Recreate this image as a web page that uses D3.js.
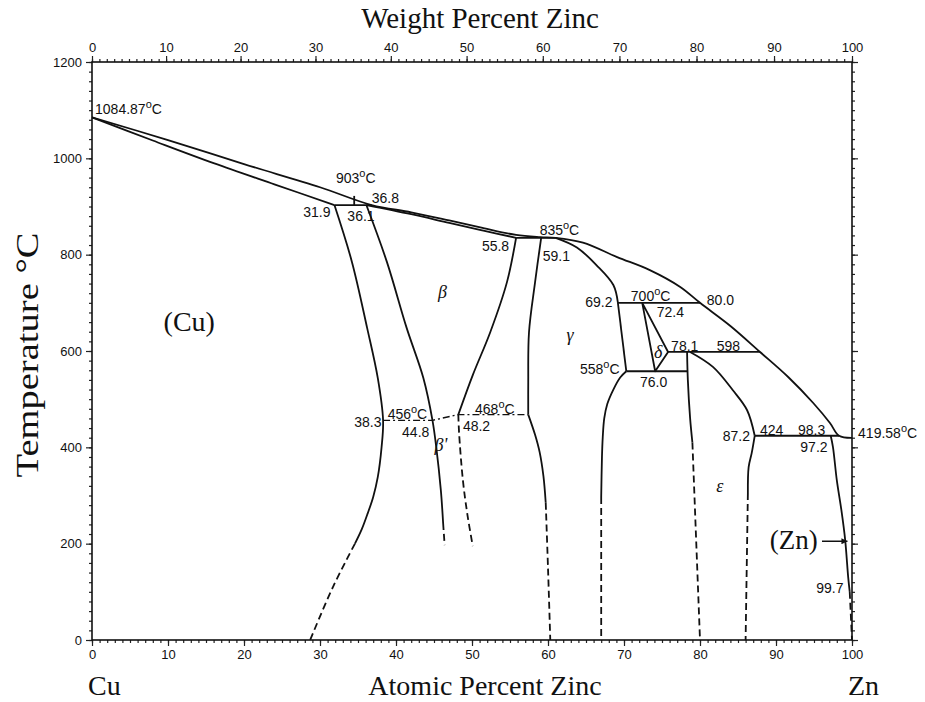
<!DOCTYPE html>
<html>
<head>
<meta charset="utf-8">
<script src="https://cdn.jsdelivr.net/npm/d3@7"></script>
<style>
body { margin: 0; background: #fff; }
text { fill: #111; }
</style>
</head>
<body>
<div id="chart"></div>
<script>
// phase boundaries, [atomic % Zn, temperature C]
var liquidus = [[0,1084.87],[10,1038],[20,988],[30,940],[36.8,903],[42,888],[47,871],[51.5,855],[55.8,841],[59,836.5],[61,835],[64.6,825],[69.1,795],[73.4,768],[77.4,733],[80,700],[84,652],[87.9,598],[91.6,546],[94.9,492],[97.1,450.5],[98.3,424],[100,419.58]];
var alphaSolidus = [[0,1084.87],[8,1037],[16,990],[24,946],[31.9,903]];
var betaSolidus = [[36.1,903],[42,884],[47,866],[51.5,850],[55.8,835]];
var gammaSolidus = [[61,835],[63.8,815],[66.4,778],[68.6,737],[69.2,700]];

var alphaSolvus = [[31.9,903],[34.2,785],[36.2,648],[37.6,544],[38.3,456],[38.1,400],[37.6,338],[37.0,297],[36.3,264],[35.5,230],[34.6,200]];
var alphaSolvusLow = [[34.6,200],[31.7,110],[28.7,0]];
var betaLeft = [[36.1,903],[38.8,785],[41.4,648],[43.6,544],[44.8,456],[45.3,400],[45.9,311],[46.2,243]];
var betaLeftLow = [[46.2,243],[46.4,197]];
var betaRight = [[55.8,835],[54.6,743],[52.4,639],[50.1,550],[48.2,468]];
var betaRightLow = [[48.2,468],[48.3,430],[48.8,332],[49.4,260],[50.1,195]];
var gammaLeft = [[59.1,835],[58.3,743],[57.5,639],[57.4,535],[57.4,468]];
var gammaLeftMid = [[57.4,468],[58.3,426],[58.9,390],[59.4,340],[59.7,285]];
var gammaLeftLow = [[59.7,285],[60.0,150],[60.3,0]];
var gammaRightTop = [[69.2,700],[70.3,558]];
var gammaRight = [[70.3,558],[69.5,545],[68.6,520],[67.8,490],[67.4,460],[67.2,420],[67.1,380],[67.0,297]];
var gammaRightLow = [[67.0,297],[67.0,0]];
var deltaField = [[72.4,700],[75.8,598],[74.1,558],[72.4,700]];
var epsLeft = [[78.3,598],[78.4,540],[78.7,460],[79.0,410]];
var epsLeftLow = [[79.0,410],[80.0,0]];
var epsRightTop = [[78.7,598],[81.7,567],[84.3,519],[86.2,477],[87.2,424]];
var epsRight = [[87.2,424],[86.8,388],[86.4,359],[86.3,305]];
var epsRightLow = [[86.3,305],[86.0,0]];
var znSolvus = [[97.2,424],[97.5,400],[98.0,332],[98.6,270],[99.1,208],[99.5,130],[99.7,100]];
var znSolvusLow = [[99.7,100],[100,0]];

// invariant lines
var tie903 = [[31.9,903],[36.8,903]];
var tie835 = [[55.8,835],[61,835]];
var tie700 = [[69.2,700],[80,700]];
var tie598 = [[75.8,598],[87.9,598]];
var tie558 = [[70.3,558],[78.4,558]];
var tie424 = [[87.2,424],[98.3,424]];
var mark903 = [[34.5,903],[34.5,922]];
var ordering = [[38.3,456],[44.8,456],[48.2,468],[57.4,468]];

// labels: text, atomic %, temperature
var numLabels = [
  ["1084.87°C",0.4,1092],["903°C",32.1,949],["36.8",36.8,907],["31.9",27.8,878],["36.1",33.6,870],
  ["55.8",51.3,808],["835°C",58.9,840],["59.1",59.3,787],["69.2",64.9,691],["700°C",70.9,704],
  ["80.0",80.9,696],["72.4",74.3,671],["78.1",76.2,600],["598",82.2,600],["558°C",64.2,552],
  ["76.0",72.1,525],["38.3",34.5,442],["456°C",38.9,459],["44.8",40.8,421],["468°C",50.4,469],
  ["48.2",48.8,434],["87.2",83.0,413],["424",87.9,426],["98.3",92.9,426],["97.2",93.2,390],
  ["419.58°C",100.8,419],["99.7",95.3,98]
];
var phaseLabels = [["β",46.1,710],["γ",62.9,621],["δ",74.5,586],["β'",45.9,393],["ε",82.6,307]];

var atTicks = d3.range(0, 101, 10);
var atMinor = d3.range(0, 101, 1);
var wtTicks = d3.range(0, 101, 10);
var wtMinor = d3.range(0, 101, 1);
var tempTicks = d3.range(0, 1201, 200);
var tempMinor = d3.range(0, 1201, 20);

var width = 925, height = 702;
var x = d3.scaleLinear().domain([0, 100]).range([92, 852]);
var y = d3.scaleLinear().domain([0, 1200]).range([640, 62]);

// weight % -> atomic % (Cu 63.546, Zn 65.38)
function wtToAt(w) {
  var a = w / 65.38, b = (100 - w) / 63.546;
  return (a + b) === 0 ? 0 : a / (a + b) * 100;
}
var xw = d3.scaleLinear().domain(wtMinor).range(wtMinor.map(function(w) { return x(wtToAt(w)); }));

var svg = d3.select("#chart").append("svg")
  .attr("width", width)
  .attr("height", height);

var tickFont = "Liberation Sans, Arial, sans-serif";

function drawAxis(axisFn, scale, major, minor, tf, labels) {
  var g = svg.append("g").attr("transform", tf);
  g.call(axisFn(scale).tickValues(minor).tickSize(3).tickSizeOuter(0).tickFormat(""));
  var m = svg.append("g").attr("transform", tf);
  m.call(axisFn(scale).tickValues(major).tickSize(6).tickSizeOuter(0).tickPadding(4)
    .tickFormat(labels ? d3.format("d") : ""));
  [g, m].forEach(function(s) {
    s.select(".domain").remove();
    s.selectAll("line").attr("stroke", "#222").attr("stroke-width", 1.2);
    s.selectAll("text").style("font-family", tickFont).style("font-size", "13px").attr("fill", "#111");
  });
}

drawAxis(d3.axisBottom, x, atTicks, atMinor, "translate(0,640)", true);
drawAxis(d3.axisTop, xw, wtTicks, wtMinor, "translate(0,62)", true);
drawAxis(d3.axisLeft, y, tempTicks, tempMinor, "translate(92,0)", true);
drawAxis(d3.axisRight, y, tempTicks, tempMinor, "translate(852,0)", false);

svg.append("rect")
  .attr("x", x(0)).attr("y", y(1200))
  .attr("width", x(100) - x(0)).attr("height", y(0) - y(1200))
  .attr("fill", "none").attr("stroke", "#111").attr("stroke-width", 1.6);

var smooth = d3.line().x(function(d) { return x(d[0]); }).y(function(d) { return y(d[1]); })
  .curve(d3.curveCatmullRom.alpha(0.5));
var straight = d3.line().x(function(d) { return x(d[0]); }).y(function(d) { return y(d[1]); });

var plot = svg.append("g").attr("fill", "none").attr("stroke", "#111").attr("stroke-width", 1.8)
  .attr("stroke-linejoin", "round");

var curves = [liquidus, alphaSolidus, betaSolidus, gammaSolidus, alphaSolvus, betaLeft, betaRight,
  gammaLeft, gammaLeftMid, gammaRight, epsLeft, epsRightTop, epsRight, znSolvus];
var lines = [tie903, tie835, tie700, tie598, tie558, tie424, mark903, gammaRightTop, deltaField];
var dashed = [alphaSolvusLow, betaLeftLow, betaRightLow, gammaLeftLow, gammaRightLow, epsLeftLow, epsRightLow, znSolvusLow];

plot.selectAll("path.curve").data(curves).join("path").attr("class", "curve").attr("d", smooth);
plot.selectAll("path.tie").data(lines).join("path").attr("class", "tie").attr("d", straight);
plot.selectAll("path.dash").data(dashed).join("path").attr("class", "dash").attr("d", smooth)
  .attr("stroke-dasharray", "7,4");
plot.append("path").datum(ordering).attr("d", straight)
  .attr("stroke-width", 1.4).attr("stroke-dasharray", "7,3,2,3");

// composition / temperature labels
var lab = svg.append("g").style("font-family", tickFont).style("font-size", "14px");
numLabels.forEach(function(d) {
  var t = lab.append("text").attr("x", x(d[1])).attr("y", y(d[2]));
  if (d[0].indexOf("°C") > 0) {
    t.append("tspan").text(d[0].replace("°C", ""));
    t.append("tspan").attr("dy", -6).style("font-size", "11px").text("o");
    t.append("tspan").attr("dy", 6).text("C");
  } else {
    t.text(d[0]);
  }
});

svg.append("g").selectAll("text").data(phaseLabels).join("text")
  .attr("x", function(d) { return x(d[1]); })
  .attr("y", function(d) { return y(d[2]); })
  .attr("text-anchor", "middle")
  .style("font-family", "Liberation Serif, serif")
  .style("font-style", "italic")
  .style("font-size", "18px")
  .text(function(d) { return d[0]; });

var serif = "Liberation Serif, Times New Roman, serif";
svg.append("text").attr("x", x(12.8)).attr("y", y(642)).attr("text-anchor", "middle")
  .style("font-family", serif).style("font-size", "28px").text("(Cu)");
svg.append("text").attr("x", x(95.5)).attr("y", y(188)).attr("text-anchor", "end")
  .style("font-family", serif).style("font-size", "27px").text("(Zn)");

svg.append("defs").append("marker")
  .attr("id", "arr").attr("viewBox", "0 0 10 10").attr("refX", 10).attr("refY", 5)
  .attr("markerWidth", 8).attr("markerHeight", 6).attr("markerUnits", "userSpaceOnUse")
  .attr("orient", "auto")
  .append("path").attr("d", "M0,0L10,5L0,10Z").attr("fill", "#111");
svg.append("line")
  .attr("x1", x(96.05)).attr("x2", x(99.4)).attr("y1", y(205)).attr("y2", y(205))
  .attr("stroke", "#111").attr("stroke-width", 1.5).attr("marker-end", "url(#arr)");

// axis titles
svg.append("text").attr("x", 480).attr("y", 28).attr("text-anchor", "middle")
  .style("font-family", serif).style("font-size", "29px").text("Weight Percent Zinc");
svg.append("text").attr("x", 485).attr("y", 695).attr("text-anchor", "middle")
  .style("font-family", serif).style("font-size", "28px").text("Atomic Percent Zinc");
svg.append("text").attr("x", 88).attr("y", 695)
  .style("font-family", serif).style("font-size", "28px").text("Cu");
svg.append("text").attr("x", 848).attr("y", 695)
  .style("font-family", serif).style("font-size", "28px").text("Zn");
svg.append("text").attr("transform", "translate(38,355) rotate(-90)").attr("text-anchor", "middle")
  .attr("textLength", 245).attr("lengthAdjust", "spacingAndGlyphs")
  .style("font-family", serif).style("font-size", "31px").text("Temperature °C");
</script>
</body>
</html>
